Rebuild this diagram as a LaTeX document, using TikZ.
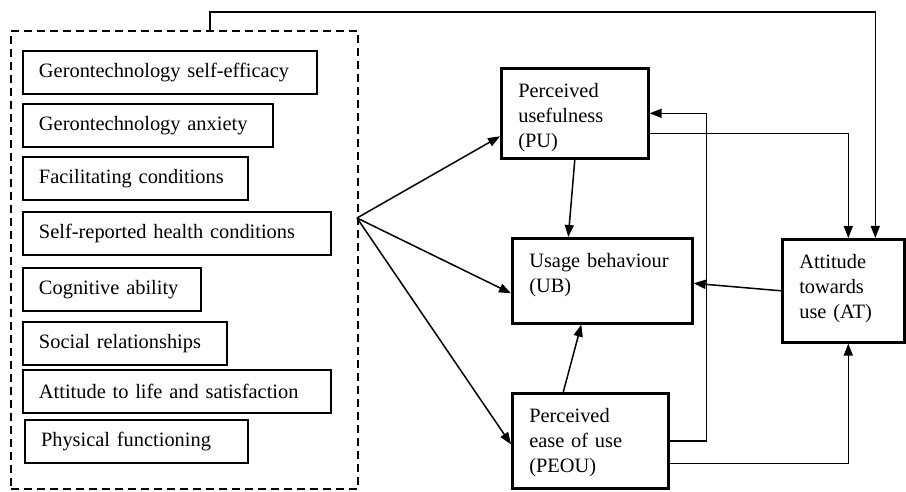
\documentclass[tikz,border=0pt]{standalone}
\usepackage{fontspec}
\setmainfont{Liberation Serif}
\usetikzlibrary{arrows.meta}

\begin{document}
\begin{tikzpicture}[
      x=0.5pt, y=-0.5pt,
      font=\fontsize{10.2}{12.5}\selectfont,
      factor/.style={draw=black, line width=1pt, anchor=west, align=left,
                     minimum height=21.5pt, inner xsep=8pt},
      construct/.style={draw=black, line width=1.3pt, anchor=north west, align=left,
                        inner xsep=8.5pt, inner ysep=4.75pt, text height=10pt},
      factorgroup/.style={draw=black, line width=.9pt, dash pattern=on 4pt off 2.5pt,
                          anchor=north west, inner sep=0pt},
      flow/.style={draw=black, -{Triangle[length=6pt,width=4.5pt]}, line width=.75pt}
    ]
    \useasboundingbox (0,0) rectangle (906,492);

    % External factors inside the dashed frame.
    \node[factorgroup, minimum width=173.5pt, minimum height=229pt] (factors) at (10,30) {};
    \node[factor, text width=131pt] (efficacy) at (22,73) {Gerontechnology self-efficacy};
    \node[factor, text width=109pt] (anxiety) at (22,125.5) {Gerontechnology anxiety};
    \node[factor, text width=96.5pt] (facilitating) at (22,179) {Facilitating conditions};
    \node[factor, text width=138pt] (health) at (22,233.5) {Self-reported health conditions};
    \node[factor, text width=73pt] (cognitive) at (22,289.5) {Cognitive ability};
    \node[factor, text width=86pt] (social) at (22,343.5) {Social relationships};
    \node[factor, text width=138pt] (life) at (22,391.5) {Attitude to life and satisfaction};
    \node[factor, text width=95.5pt] (physical) at (24,441.5) {Physical functioning};
    \coordinate (fan) at (357,218);
    \coordinate (loop) at (210,30);

    % TAM constructs.
    \node[construct, text width=56.5pt, text depth=25.5pt] (pu) at (500,67)
      {Perceived\\usefulness\\(PU)};
    \node[construct, text width=73pt, text depth=23pt] (ub) at (511,237)
      {Usage behaviour\\(UB)};
    \node[construct, text width=61pt, text depth=28pt] (peou) at (511,392)
      {Perceived\\ease of use\\(PEOU)};
    \node[construct, text width=44pt, text depth=32pt] (at) at (781,238)
      {Attitude\\towards\\use (AT)};

    % Paths.
    \draw[flow] (fan) -- ([yshift=-11.5pt]pu.west);
    \draw[flow] (fan) -- ([yshift=-6.25pt]ub.west);
    \draw[flow] (fan) -- ([yshift=-1.75pt]peou.west);
    \draw[flow] (pu.south) -- ([xshift=-17pt]ub.north);
    \draw[flow] ([xshift=-13.5pt]peou.north) -- ([xshift=-10.5pt]ub.south);
    \draw[flow] (at.west) -- ([yshift=-1.25pt]ub.east);
    \draw[flow] ([yshift=-10pt]pu.east) -| ([xshift=2.5pt]at.north);
    \draw[flow] (peou.east) -- ++(37,0) |- (pu.east);
    \draw[flow] ([yshift=-11.25pt]peou.east) -| ([xshift=2.5pt]at.south);
    \draw[flow, line width=.6pt] (loop) -- ++(0,-18) -| ([xshift=16pt]at.north);
  \end{tikzpicture}
\end{document}
